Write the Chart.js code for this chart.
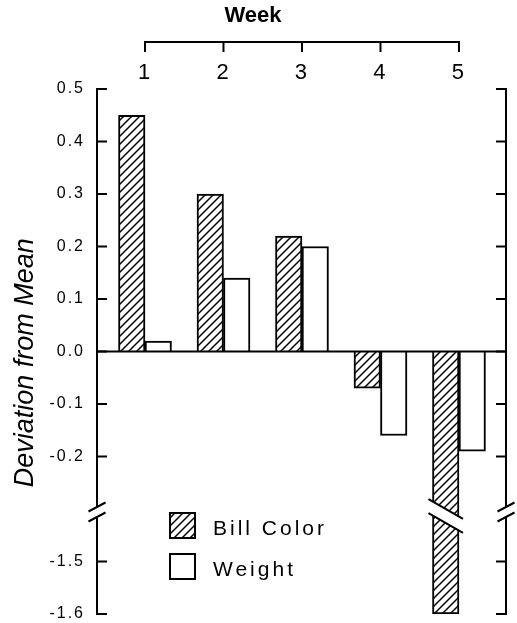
<!DOCTYPE html>
<html>
<head>
<meta charset="utf-8">
<title>Deviation from Mean by Week</title>
<script src="https://cdn.jsdelivr.net/npm/chart.js@4/dist/chart.umd.min.js"></script>
<style>
  body { margin: 0; background: #fff; }
</style>
</head>
<body>
<canvas id="myChart" width="517" height="623"></canvas>
<script>
const weeks = [1, 2, 3, 4, 5];
const billColor = [0.45, 0.30, 0.22, -0.07, -1.60];
const weight = [0.02, 0.14, 0.20, -0.16, -0.19];
const yTickValues = [0.5, 0.4, 0.3, 0.2, 0.1, 0.0, -0.1, -0.2, -1.5, -1.6];

// y axis is broken between -0.2 and -1.5, values below the break are moved up
const breakAt = -0.3;
const breakShift = 1.1;
function toAxis(v) {
    return v < breakAt ? v + breakShift : v;
}

const FONT = "'Liberation Sans', Arial, sans-serif";
Chart.defaults.font.family = FONT;
Chart.defaults.color = '#000';

function makeHatch() {
    const c = document.createElement('canvas');
    c.width = 8;
    c.height = 8;
    const g = c.getContext('2d');
    g.fillStyle = '#fff';
    g.fillRect(0, 0, 8, 8);
    g.strokeStyle = '#000';
    g.lineWidth = 1.5;
    g.beginPath();
    g.moveTo(0, 8); g.lineTo(8, 0);
    g.moveTo(-2, 2); g.lineTo(2, -2);
    g.moveTo(6, 10); g.lineTo(10, 6);
    g.stroke();
    return g.createPattern(c, 'repeat');
}

const ctx = document.getElementById('myChart').getContext('2d');
const hatch = makeHatch();
const seriesValues = [billColor, weight];

// axes drawn the way the figure has them: inward ticks, brackets and // breaks
const framePlugin = {
    id: 'frame',
    beforeDraw(chart) {
        chart.ctx.letterSpacing = '0px';
    },
    afterDatasetsDraw(chart) {
        const c = chart.ctx;
        const yb = chart.scales.y.getPixelForValue(breakAt);
        chart.data.datasets.forEach((ds, i) => {
            const meta = chart.getDatasetMeta(i);
            seriesValues[i].forEach((v, j) => {
                if (v >= breakAt) return;
                const bar = meta.data[j];
                const l = bar.x - bar.width / 2 - 4;
                const r = bar.x + bar.width / 2 + 4;
                const yc = yb + 7;
                const s = 0.57;
                const at = (x, off) => yc + off + (x - bar.x) * s;
                c.save();
                c.fillStyle = '#fff';
                c.beginPath();
                c.moveTo(l + 3, at(l + 3, -7));
                c.lineTo(r - 3, at(r - 3, -7));
                c.lineTo(r - 3, at(r - 3, 7));
                c.lineTo(l + 3, at(l + 3, 7));
                c.closePath();
                c.fill();
                c.strokeStyle = '#000';
                c.lineWidth = 2;
                c.beginPath();
                c.moveTo(l, at(l, -7)); c.lineTo(r, at(r, -7));
                c.moveTo(l, at(l, 7)); c.lineTo(r, at(r, 7));
                c.stroke();
                c.restore();
            });
        });
        // tick labels come after this
        c.letterSpacing = '2px';
    },
    afterDraw(chart) {
        const c = chart.ctx;
        const area = chart.chartArea;
        const ys = chart.scales.y;
        const xs = chart.scales.x;
        const yb = ys.getPixelForValue(breakAt) + 3;
        const tickPix = ys.ticks.map((t) => ys.getPixelForValue(t.value));

        c.save();
        c.strokeStyle = '#000';
        c.lineWidth = 2;

        function drawAxis(x, dir) {
            c.beginPath();
            c.moveTo(x + dir * 10, area.top);
            c.lineTo(x, area.top);
            c.lineTo(x, yb - 5);
            c.moveTo(x, yb + 5);
            c.lineTo(x, area.bottom);
            c.lineTo(x + dir * 10, area.bottom);
            tickPix.slice(1, -1).forEach((p) => {
                c.moveTo(x, p);
                c.lineTo(x + dir * 10, p);
            });
            c.moveTo(x - 8.5, yb - 0.5); c.lineTo(x + 8.5, yb - 9.5);
            c.moveTo(x - 8.5, yb + 9.5); c.lineTo(x + 8.5, yb + 0.5);
            c.stroke();
        }
        drawAxis(area.left, 1);
        drawAxis(area.right, -1);

        // zero line
        const y0 = ys.getPixelForValue(0);
        c.beginPath();
        c.moveTo(area.left, y0);
        c.lineTo(area.right, y0);
        c.stroke();

        // week axis line above the labels
        const wy = xs.bottom - 47;
        const x1 = xs.getPixelForValue(weeks[0]);
        const x2 = xs.getPixelForValue(weeks[weeks.length - 1]);
        c.beginPath();
        c.moveTo(x1, wy);
        c.lineTo(x2, wy);
        weeks.forEach((w) => {
            const px = xs.getPixelForValue(w);
            c.moveTo(px, wy - 1);
            c.lineTo(px, wy + 10);
        });
        c.stroke();

        // legend
        c.font = '21px ' + FONT;
        c.letterSpacing = '3px';
        c.textBaseline = 'middle';
        c.textAlign = 'left';
        chart.data.datasets.forEach((ds, i) => {
            const bx = area.left + 73;
            const by = area.bottom - 101 + i * 41;
            c.fillStyle = ds.backgroundColor;
            c.fillRect(bx, by, 25, 25);
            c.strokeRect(bx, by, 25, 25);
            c.fillStyle = '#000';
            c.fillText(ds.label, bx + 43, by + 16.5);
        });
        c.restore();
    }
};

const myChart = new Chart(ctx, {
    type: 'bar',
    data: {
        datasets: [
            {
                label: 'Bill Color',
                data: weeks.map((w, i) => ({ x: w, y: toAxis(billColor[i]) })),
                backgroundColor: hatch,
                borderColor: '#000',
                borderWidth: 2,
            },
            {
                label: 'Weight',
                data: weeks.map((w, i) => ({ x: w, y: toAxis(weight[i]) })),
                backgroundColor: '#fff',
                borderColor: '#000',
                borderWidth: 2,
            },
        ],
    },
    options: {
        responsive: false,
        animation: false,
        barThickness: 26.5,
        layout: {
            padding: { top: 0, left: 0, right: 11, bottom: 9 },
        },
        plugins: {
            legend: { display: false },
            tooltip: { enabled: false },
            title: {
                display: true,
                text: 'Week',
                font: { size: 22, weight: 'bold' },
                padding: { top: 3, bottom: 0 },
            },
        },
        scales: {
            x: {
                type: 'linear',
                position: 'top',
                offset: false,
                min: 0.3885,
                max: 5.599,
                afterBuildTicks: (scale) => {
                    scale.ticks = weeks.map((w) => ({ value: w }));
                },
                afterFit: (scale) => {
                    scale.height = 89 - 29.4;
                },
                grid: { display: false, drawTicks: false },
                border: { display: false },
                ticks: {
                    autoSkip: false,
                    maxRotation: 0,
                    padding: 3,
                    z: 1,
                    font: { size: 22 },
                    callback: (value) => String(value),
                },
            },
            y: {
                min: -0.5,
                max: 0.5,
                afterBuildTicks: (scale) => {
                    scale.ticks = yTickValues.map((v) => ({ value: toAxis(v) }));
                },
                afterFit: (scale) => {
                    scale.width = 97;
                    scale.paddingTop = 0;
                    scale.paddingBottom = 0;
                },
                grid: { display: false, drawTicks: false },
                border: { display: false },
                ticks: {
                    autoSkip: false,
                    padding: 12,
                    z: 1,
                    font: { size: 16 },
                    callback: (value, index) => yTickValues[index].toFixed(1),
                },
                title: {
                    display: true,
                    text: 'Deviation from Mean\u00a0\u00a0\u00a0',
                    font: { size: 27, style: 'italic' },
                    padding: { top: 9, bottom: 0 },
                },
            },
        },
    },
    plugins: [framePlugin],
});
</script>
</body>
</html>
